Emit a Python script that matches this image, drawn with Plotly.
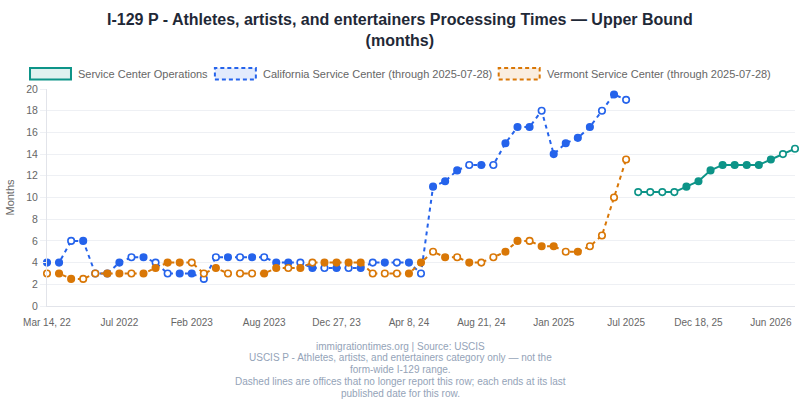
import plotly.graph_objects as go

# x positions are report dates; only every 6th one is labelled on the axis
tick_labels = ["Mar 14, 22", "Jul 2022", "Feb 2023", "Aug 2023", "Dec 27, 23", "Apr 8, 24",
               "Aug 21, 24", "Jan 2025", "Jul 2025", "Dec 18, 25", "Jun 2026"]
n_dates = 63

# California Service Center (through 2025-07-28), months
california = [4, 4, 6, 6, 3, 3, 4, 4.5, 4.5, 4, 3, 3, 3, 2.5, 4.5, 4.5, 4.5, 4.5, 4.5, 4,
              4, 4, 3.5, 3.5, 3.5, 3.5, 3.5, 4, 4, 4, 4, 3, 11, 11.5, 12.5, 13, 13, 13, 15, 16.5,
              16.5, 18, 14, 15, 15.5, 16.5, 18, 19.5, 19]
# Vermont Service Center (through 2025-07-28), months
vermont = [3, 3, 2.5, 2.5, 3, 3, 3, 3, 3, 3.5, 4, 4, 4, 3, 3.5, 3, 3, 3, 3, 3.5,
           3.5, 3.5, 4, 4, 4, 4, 4, 3, 3, 3, 3, 4, 5, 4.5, 4.5, 4, 4, 4.5, 5, 6,
           6, 5.5, 5.5, 5, 5, 5.5, 6.5, 10, 13.5]
# Service Center Operations, starts after the two offices stop reporting
operations = [10.5, 10.5, 10.5, 10.5, 11, 11.5, 12.5, 13, 13, 13, 13, 13.5, 14, 14.5]

# points drawn as open circles in the source chart (1 = open)
california_open = [0, 0, 1, 0, 0, 1, 0, 1, 0, 1, 1, 0, 0, 1, 1, 0, 1, 0, 1, 0,
                   0, 1, 0, 1, 0, 1, 0, 1, 0, 1, 0, 1, 0, 0, 0, 1, 0, 1, 0, 0,
                   0, 1, 0, 0, 0, 0, 1, 0, 1]
vermont_open = [1, 0, 0, 1, 1, 0, 0, 1, 0, 0, 0, 0, 1, 1, 0, 1, 1, 1, 0, 0,
                1, 0, 1, 0, 0, 0, 0, 1, 1, 1, 0, 0, 1, 0, 1, 0, 1, 1, 0, 0,
                1, 0, 0, 1, 0, 1, 1, 1, 1]
operations_open = [1, 1, 1, 1, 0, 0, 0, 0, 0, 0, 0, 0, 1, 1]

FONT = "Liberation Sans, Arial, Helvetica, sans-serif"
BLUE, ORANGE, TEAL = "#2563eb", "#d97706", "#0d9488"

# plot area in pixels (800x400 page)
L, R, T, B = 46.5, 5, 89, 94
PW, PH = 800 - L - R, 400 - T - B


def px(x):
    return (x - L) / PW


def py(y):
    return (400 - B - y) / PH


def series(values, start, is_open, color, name, dash):
    xs = list(range(start, start + len(values)))
    fills = ["white" if o else color for o in is_open]
    return go.Scatter(
        x=xs, y=values, name=name, mode="lines+markers", cliponaxis=False,
        line=dict(color=color, width=2, dash=dash),
        marker=dict(size=6.5, color=fills, line=dict(color=color, width=1.6)),
        showlegend=False,
    )


fig = go.Figure()
fig.add_trace(series(operations, len(california), operations_open, TEAL,
                     "Service Center Operations", "solid"))
fig.add_trace(series(california, 0, california_open, BLUE,
                     "California Service Center (through 2025-07-28)", "4px,4px"))
fig.add_trace(series(vermont, 0, vermont_open, ORANGE,
                     "Vermont Service Center (through 2025-07-28)", "4px,4px"))

# hand-drawn legend boxes, chart.js style
legend = [
    (29.5, "Service Center Operations", TEAL, "rgba(13,148,136,0.13)", "solid"),
    (214.5, "California Service Center (through 2025-07-28)", BLUE, "rgba(37,99,235,0.13)", "4px,3px"),
    (498.5, "Vermont Service Center (through 2025-07-28)", ORANGE, "rgba(217,119,6,0.13)", "4px,3px"),
]
for x0, text, color, fill, dash in legend:
    fig.add_shape(type="rect", xref="paper", yref="paper",
                  x0=px(x0), x1=px(x0 + 41), y0=py(79.5), y1=py(68),
                  fillcolor=fill, line=dict(color=color, width=2, dash=dash))
    fig.add_annotation(text=text, xref="paper", yref="paper", x=px(x0 + 46), y=py(74),
                       xanchor="left", yanchor="middle", showarrow=False,
                       font=dict(family=FONT, size=11, color="#666666"))

# title as an annotation so its two lines sit where the original's do
fig.add_annotation(text="<b>I-129 P - Athletes, artists, and entertainers Processing Times \u2014 Upper Bound<br>(months)</b>",
                   xref="paper", yref="paper", x=px(400), y=py(29.5),
                   xanchor="center", yanchor="middle", showarrow=False,
                   font=dict(family=FONT, size=16, color="#1f2937"))

footer = [
    "immigrationtimes.org | Source: USCIS",
    "USCIS P - Athletes, artists, and entertainers category only \u2014 not the",
    "form-wide I-129 range.",
    "Dashed lines are offices that no longer report this row; each ends at its last",
    "published date for this row.",
]
for i, line in enumerate(footer):
    fig.add_annotation(text=line, xref="paper", yref="paper", x=px(400), y=py(346 + i * 11.8),
                       xanchor="center", yanchor="middle", showarrow=False,
                       font=dict(family=FONT, size=10, color="#94a3b8"))

fig.update_layout(
    width=800, height=400,
    margin=dict(l=L, r=R, t=T, b=B),
    paper_bgcolor="white", plot_bgcolor="white",
    font=dict(family=FONT, size=10, color="#666666"),
    xaxis=dict(range=[0, n_dates - 1], tickvals=list(range(0, n_dates, 6)), ticktext=tick_labels,
               showgrid=False, showline=True, linecolor="#e2e4ea", zeroline=False,
               ticks="", ticklabelstandoff=7, tickfont=dict(size=10, color="#666666")),
    yaxis=dict(range=[0, 20], dtick=2, showgrid=True, gridcolor="#eef0f4", zeroline=False,
               showline=True, linecolor="#e2e4ea", ticks="outside", ticklen=6, tickcolor="#eef0f4",
               title=dict(text="Months", standoff=9, font=dict(size=11, color="#666666")),
               tickfont=dict(size=10.5, color="#666666")),
)

# drop the page's default body margin so the 800x400 figure fills the window
fig.write_html("out.html", config={"displayModeBar": False},
               post_script="document.body.style.margin = '0';")
